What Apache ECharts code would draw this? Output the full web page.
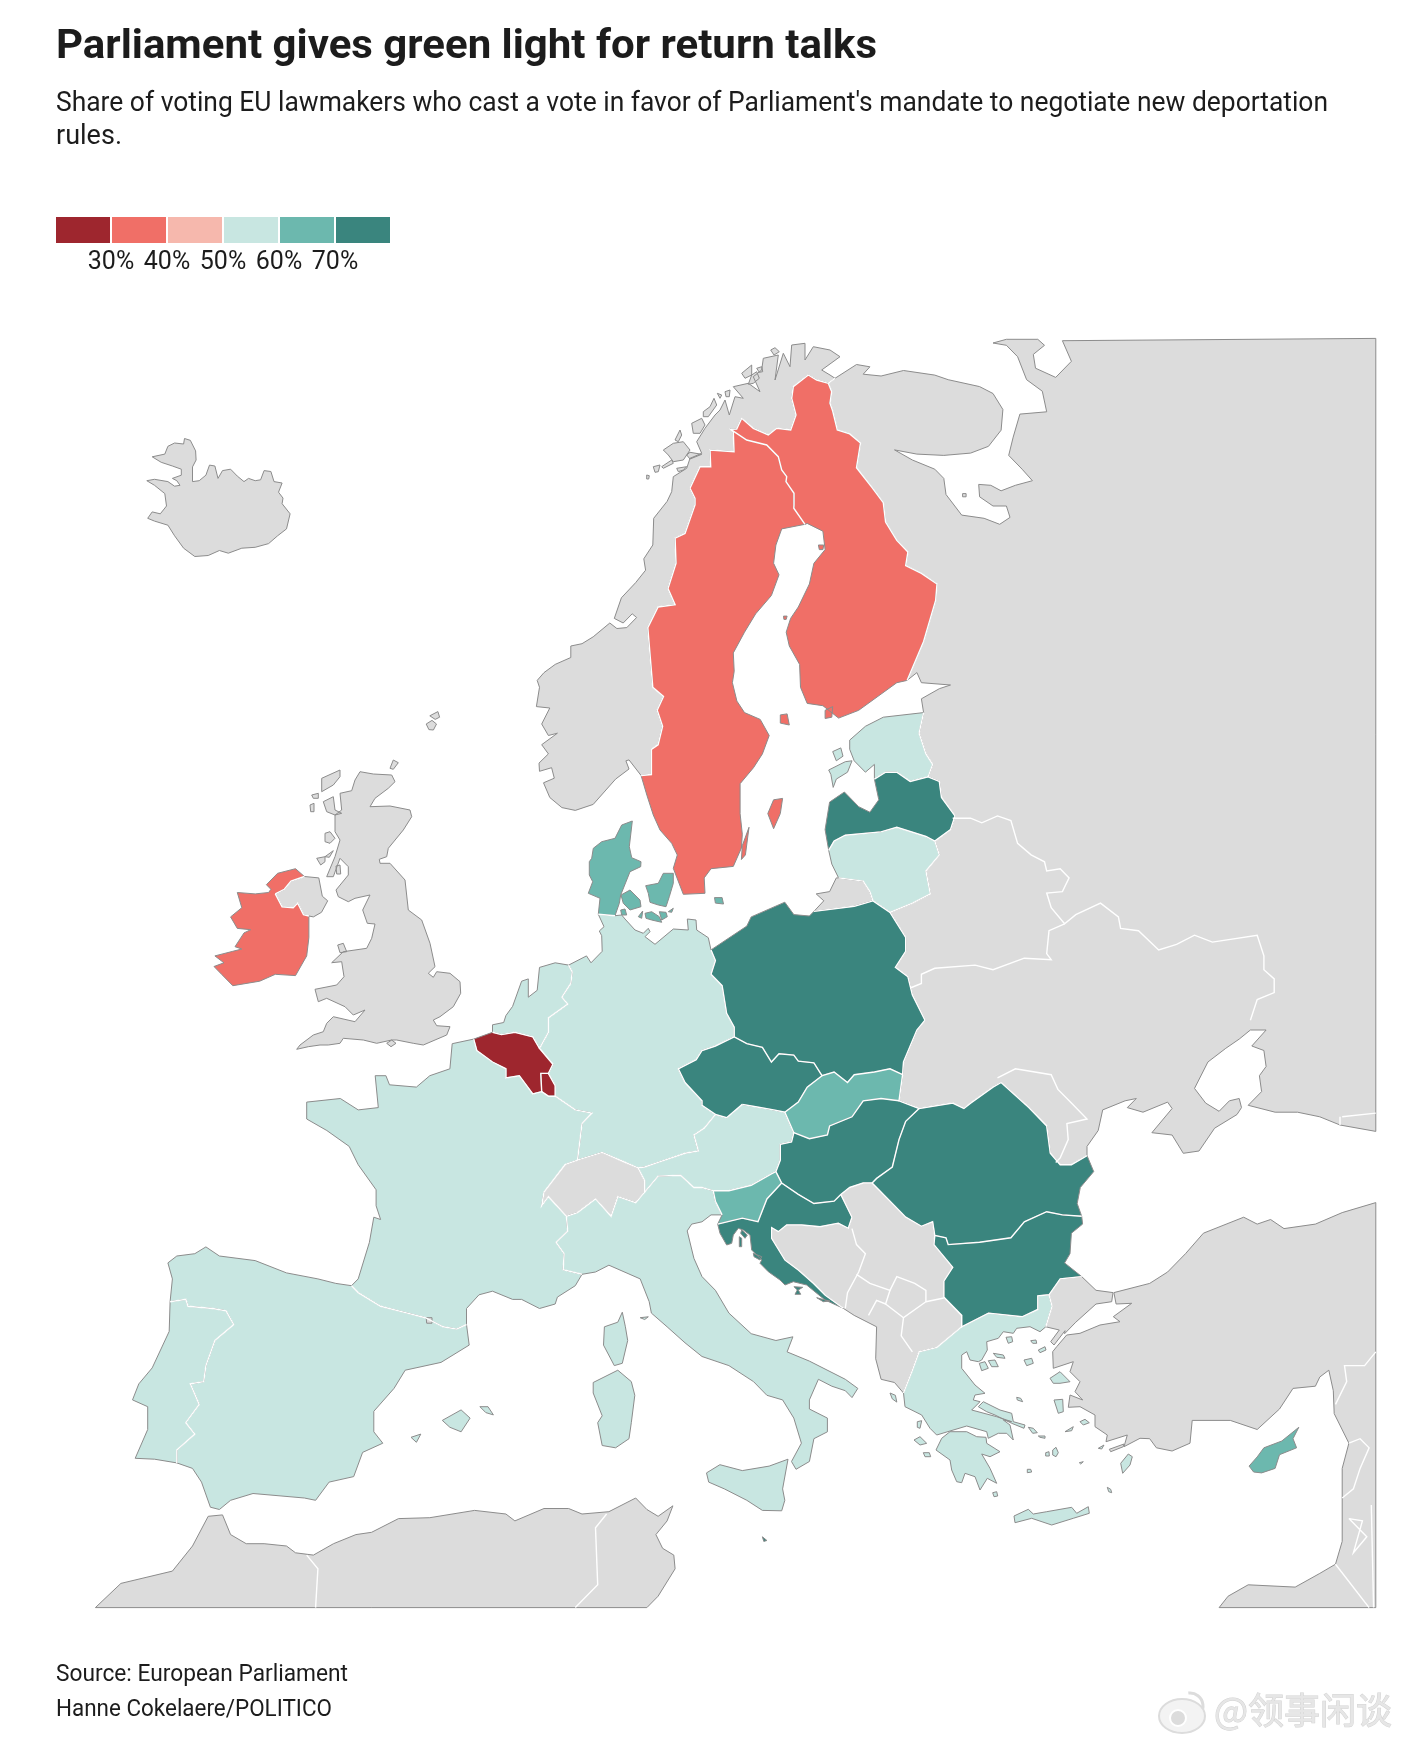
<!DOCTYPE html>
<html>
<head>
<meta charset="utf-8">
<title>Parliament gives green light for return talks</title>
<script src="https://cdn.jsdelivr.net/npm/echarts@6/dist/echarts.min.js"></script>
<style>
html,body{margin:0;padding:0;background:#fff;}
#main{width:1404px;height:1746px;}
</style>
</head>
<body>
<div id="main"></div>
<script>
// share of yes votes per country (read from the colour bins, so estimates)
var euCountries = ['Belgium','Luxembourg','Ireland','Sweden','Finland','Germany','France','Spain','Portugal','Italy','Greece','Austria','Netherlands','Estonia','Lithuania','Denmark','Slovakia','Slovenia','Cyprus','Latvia','Poland','Czechia','Hungary','Romania','Bulgaria','Croatia','Malta'];
var euShares = [27,28,37,36,38,55,53,56,54,58,57,55,53,57,58,64,65,66,67,76,78,75,80,79,82,76,74];

var legendBreaks = [20,30,40,50,60,70,80];
var legendColors = ['#9e262e','#f06f67','#f6b8ad','#c8e6e1','#6cb8ae','#3a857e'];

var titleText = 'Parliament gives green light for return talks';
var subtitleLines = ["Share of voting EU lawmakers who cast a vote in favor of Parliament's mandate to negotiate new deportation", 'rules.'];
var sourceLines = ['Source: European Parliament', 'Hanne Cokelaere/POLITICO'];
var watermarkText = '@领事闲谈';

var tiles = {
  a:[0,320,2.2336,2.178], b:[702,320,2.2336,2.178], c:[0,1030,2.2336,2.19], d:[702,1030,2.2336,2.19],
  e:[640,335,3,3], f:[580,815,3,3], g:[710,1175,3,3], h:[900,1300,3,3], i:[290,760,3,3]
};

var shapes = {
  Iceland: ['a 340,298 368,292 375,275 390,268 410,270 412,258 425,262 437,285 438,305 430,320 430,352 445,350 460,338 468,316 480,318 487,345 497,328 515,325 530,340 545,352 555,345 570,350 582,348 590,328 605,330 612,352 630,355 622,375 632,388 630,400 648,422 640,455 620,470 600,487 570,495 540,497 510,508 490,502 465,513 435,515 410,497 390,470 375,447 345,438 330,432 340,418 358,422 372,405 368,378 345,360 328,350 345,347 375,352 390,362 402,360 395,350 385,345 405,338 405,325 385,318 360,310'],
  Faroe: ['a 952,880 965,872 975,880 968,893 958,892','a 960,862 978,853 982,865 972,870'],
  Norway: ['a 1285,1068 1255,1062 1228,1040 1214,1008 1238,998 1232,975 1205,983 1204,965 1225,945 1210,925 1245,900 1225,905 1210,880 1228,845 1198,842 1205,800 1200,785 1215,768 1240,750 1275,735 1275,710 1300,705 1325,690 1362,660 1378,672 1400,670 1422,648 1412,640 1392,660 1372,650 1388,605 1420,572 1442,545 1438,520 1458,490 1460,432 1490,395 e 95,470 100,425 140,400 150,370 185,355 170,320 195,280 225,240 240,225 255,195 268,240 285,185 310,190 280,155 325,145 360,170 340,125 365,105 370,70 415,60 405,135 430,55 450,95 455,30 495,25 495,75 520,35 570,45 600,65 545,105 570,120 585,130 565,145 530,135 505,120 460,155 455,190 468,240 452,285 410,280 385,300 340,280 305,250 290,282 272,283 280,290 282,350 210,345 212,395 180,395 150,460 165,490 165,510 a 1530,465 1508,475 1510,530 1492,585 1508,620 1470,625 1447,670 1452,730 1458,800 1482,820 1468,850 1480,885 1470,925 1455,935 1455,990 1432,992 1405,958 1398,960 1405,978 1375,1000 1325,1055',
    'e 70,345 100,325 130,320 150,345 130,375 100,380 85,360','e 105,315 120,285 125,300 115,320','e 40,395 60,390 55,410 45,412','e 65,395 95,375 100,385 70,400','e 20,420 28,422 26,432 20,432','e 110,400 140,395 130,405 115,410','e 155,265 185,250 195,270 180,295 160,295','e 190,230 210,215 222,190 230,210 205,245 190,245','e 232,175 245,180 240,190','e 255,170 270,165 268,185 258,185','e 305,115 335,90 335,120 315,130','e 335,120 350,110 358,130 340,145 325,148','e 350,100 365,95 368,110 358,112','e 392,45 405,38 418,50 402,60','e 140,360 150,352 185,358 150,372'],
  Sweden: ['e 272,283 320,315 380,330 415,365 425,405 440,425 438,440 462,475 462,510 b 205,410 230,445 178,455 165,490 160,530 172,555 155,600 120,640 95,680 70,725 72,765 68,790 78,830 95,855 130,870 150,905 135,945 115,975 85,1010 85,1075 90,1120 88,1150 70,1190 20,1195 5,1215 f 375,235 310,238 280,160 292,120 275,85 240,45 220,0 a 1445,1035 1432,992 1455,990 1455,935 1470,925 1480,885 1468,850 1482,820 1458,800 1452,730 1447,670 1470,625 1508,620 1492,585 1510,530 1508,475 1530,465 e 165,510 165,490 150,460 180,395 212,395 210,345 282,350 280,290',
    'b 147,1075 160,1045 180,1042 175,1075 160,1108','b 105,1105 97,1165 88,1175 90,1145'],
  Finland: ['e 272,283 290,282 305,250 340,280 385,300 410,280 452,285 468,240 455,190 460,155 505,120 530,135 565,145 575,170 570,205 578,228 592,285 b 330,248 354,268 345,322 380,365 405,398 410,440 435,480 460,505 455,535 490,552 525,575 522,610 495,700 458,785 435,790 350,850 305,867 270,840 235,835 220,800 218,750 195,710 188,680 198,650 215,625 240,575 250,530 275,500 270,460 235,443 230,445 205,410 e 462,510 462,475 438,440 440,425 425,405 415,365 380,330 320,315',
    'b 175,860 190,858 195,882 175,878','b 260,490 272,490 270,500 262,500','b 182,645 190,645 188,652 183,652','b 275,850 292,842 290,865 275,868'],
  Russia: ['e 565,145 585,130 b 345,97 375,102 360,118 400,122 450,110 520,120 550,130 620,145 650,160 672,195 668,240 640,275 600,290 540,295 480,292 430,283 470,305 520,325 540,345 545,380 580,425 630,432 665,445 688,430 680,405 650,405 620,385 618,358 645,360 668,372 700,360 738,350 715,325 685,295 695,255 710,205 770,200 760,155 725,130 705,80 680,55 650,50 680,42 750,42 765,55 740,75 745,105 790,125 825,90 805,45 1505,40 d 1505,222 1425,208 1380,190 1330,180 1280,180 1220,165 1250,135 1245,100 1260,80 1255,45 1228,35 1260,0 1225,0 1200,20 1170,40 1130,70 1100,128 1125,160 1155,178 1178,155 1200,150 1205,170 1195,185 1145,215 1110,265 1075,270 1050,230 1005,225 1050,172 1040,158 985,180 950,170 970,150 945,155 895,175 885,220 860,255 860,275 825,295 800,295 778,270 770,210 730,170 668,115 650,125 600,160 585,172 560,160 485,172 440,155 448,98 450,70 480,0 b 498,1525 470,1470 460,1430 432,1410 455,1375 455,1345 420,1290 470,1270 510,1250 500,1200 530,1165 520,1135 555,1110 565,1080 535,1040 530,1005 505,995 515,968 500,945 485,900 495,855 490,825 530,803 555,795 490,790 480,768 458,785 495,700 522,610 525,575 490,552 455,535 460,505 435,480 410,440 405,398 380,365 345,322 354,268 330,248 e 592,285 578,228 570,205 575,170',
    'b 582,378 590,378 590,385 582,385'],
  Kaliningrad: ['b 250,1288 272,1265 255,1250 285,1245 300,1215 305,1215 360,1222 375,1245 382,1265 340,1277'],
  Estonia: ['b 495,855 485,900 500,945 515,968 505,995 465,1005 435,985 410,985 385,1000 385,968 365,985 340,960 330,935 330,915 365,885 405,865','b 283,980 320,962 335,960 325,985 300,1000 293,1018 288,990','b 292,940 310,932 315,950 300,960'],
  Latvia: ['b 385,1000 410,985 435,985 465,1005 505,995 530,1005 535,1040 565,1080 555,1110 520,1135 500,1125 435,1105 400,1115 320,1122 295,1135 283,1155 275,1110 285,1050 318,1028 350,1060 375,1072 395,1045'],
  Lithuania: ['b 283,1155 295,1135 320,1122 400,1115 435,1105 500,1125 520,1135 530,1165 500,1200 510,1250 470,1270 420,1290 382,1265 375,1245 360,1222 305,1215 290,1185'],
  Poland: ['b 20,1372 100,1320 110,1300 185,1268 205,1295 240,1298 250,1288 340,1277 382,1265 420,1290 455,1345 455,1375 432,1410 460,1430 470,1470 498,1525 d 480,0 450,70 448,98 420,85 385,92 340,98 325,115 295,92 268,100 250,72 215,68 205,55 172,52 155,70 135,38 100,30 72,15 b 72,1540 55,1510 45,1450 20,1425 30,1395'],
  Denmark: ['f 157,18 125,30 105,70 65,80 40,100 35,130 28,140 28,180 38,200 25,235 60,250 55,298 105,302 118,265 122,240 140,195 150,170 182,155 183,140 155,128 148,95',
    'f 123,240 150,225 180,255 183,275 150,285 130,265','f 197,212 235,205 250,175 280,175 280,205 268,245 258,275 235,270 210,262 205,235','f 195,295 215,290 238,305 245,322 215,315 198,310','f 238,290 258,292 262,305 245,315','f 175,305 188,288 185,310','f 265,290 280,280 275,292','f 122,285 135,282 140,300 125,300','b 28,1258 45,1258 48,1272 30,1270'],
  Germany: ['f 55,298 105,302 125,300 135,312 165,345 190,355 205,340 210,350 195,365 225,388 280,342 325,345 322,312 348,315 350,345 385,368 b 20,1372 30,1395 20,1425 45,1450 55,1510 72,1540 d 72,15 30,35 0,45 c 1555,65 1515,85 1530,115 1568,155 d 0,165 30,185 5,215 c 1550,230 1560,265 1530,270 1470,290 1440,300 1425,302 1392,288 1345,268 1290,285 1300,205 1322,182 1285,175 1240,145 1240,122 1225,95 1235,75 1205,40 1225,5 a 1225,1520 1268,1490 1255,1475 1275,1445 1278,1420 1270,1405 1310,1385 1320,1400 1345,1375 f 65,362 58,348 72,335'],
  Netherlands: ['c 1100,5 1120,10 1150,5 1190,15 1205,40 1225,5 a 1225,1520 1268,1490 1255,1475 1275,1445 1278,1420 1270,1405 1240,1400 1205,1410 1200,1460 1180,1475 1180,1435 1165,1440 1145,1495 1130,1515 1125,1530 1100,1535'],
  Belgium: ['c 1205,40 1235,75 1225,95 1208,95 1210,135 1190,140 1160,100 1130,105 1130,85 1100,70 1065,45 1058,20 1100,5 1120,10 1150,5 1190,15'],
  Luxembourg: ['c 1208,95 1225,95 1240,122 1240,145 1225,145 1210,135'],
  France: ['c 1010,30 1005,85 960,100 930,125 870,120 862,100 838,100 845,170 800,175 760,150 685,158 685,195 730,220 780,255 800,295 840,350 840,385 850,415 835,410 825,465 800,545 785,560 800,575 850,605 910,620 950,630 990,650 1020,655 1042,645 1042,610 1070,580 1100,572 1145,590 1165,590 1205,610 1240,600 1245,585 1285,560 1300,535 1258,525 1260,490 1242,465 1268,440 1265,408 1225,365 1210,385 1215,355 1262,295 1290,285 1300,205 1322,182 1285,175 1240,145 1225,145 1210,135 1190,140 1160,100 1130,105 1130,85 1100,70 1065,45 1058,20',
    'c 1390,618 1397,650 1402,680 1390,730 1372,735 1348,690 1350,650 1380,640'],
  Spain: ['c 785,560 750,555 710,545 640,532 570,505 490,495 460,475 435,490 395,495 375,510 385,545 380,595 415,590 420,605 475,610 505,615 522,645 480,680 460,735 455,770 425,775 445,820 415,860 435,885 395,920 395,948 430,960 450,990 470,1045 490,1050 515,1030 565,1015 680,1025 705,1030 735,990 790,978 810,925 855,905 835,880 835,835 880,785 905,745 985,728 1048,690 1042,645 1020,655 990,650 950,630 910,620 850,605 800,575',
    'c 988,855 1030,832 1050,850 1030,880 1005,870','c 1072,825 1090,825 1102,843 1085,838','c 918,892 940,885 930,903'],
  Portugal: ['c 380,595 378,660 340,740 310,775 296,810 330,825 330,875 302,938 345,940 395,948 395,920 435,885 415,860 445,820 425,775 455,770 460,735 480,680 522,645 505,615 475,610 420,605 415,590'],
  Andorra: ['c 952,630 965,630 965,642 953,642'],
  Switzerland: ['c 1262,295 1290,285 1345,268 1392,288 1425,302 1440,330 1440,355 1420,378 1380,365 1365,408 1330,370 1290,400 1265,408 1225,365 1210,385 1215,355'],
  Italy: ['c 1300,535 1258,525 1260,490 1242,465 1268,440 1265,408 1290,400 1330,370 1365,408 1380,365 1420,378 1440,355 1470,320 1520,318 1550,345 d 0,345 25,352 30,375 45,405 20,405 0,420 c 1545,425 1535,440 1550,500 d 0,540 30,570 60,620 110,665 165,680 203,672 190,705 240,725 320,765 348,785 335,805 320,790 290,780 260,765 240,810 240,830 280,850 280,880 250,895 240,945 210,962 200,945 222,905 205,850 180,810 145,800 115,770 60,735 0,715 c 1530,685 1490,650 1455,620 1450,595 1430,545 1360,515 1330,530',
    'c 1325,772 1380,745 1410,770 1418,800 1410,860 1405,895 1375,915 1345,910 1335,860 1345,845 1325,795',
    'd 10,970 40,952 90,965 150,955 192,940 180,1005 185,1030 178,1053 135,1052 100,1030 50,1005 15,990',
    'c 1430,630 1448,628 1440,634'],
  Malta: ['d 135,1110 145,1118 138,1120'],
  Austria: ['d 90,163 55,192 30,185 5,215 c 1550,230 1560,265 1530,270 1470,290 1440,300 1425,302 1440,330 1440,355 1470,320 1520,318 1550,345 d 0,345 25,352 60,352 110,340 155,315 165,310 175,285 175,250 200,245 205,225 185,180 160,175 120,168'],
  Czechia: ['d 72,15 100,30 135,38 155,70 172,52 205,55 215,68 250,72 268,100 235,125 215,158 185,180 160,175 120,168 90,163 55,192 30,185 0,165 c 1568,155 1530,115 1515,85 1555,65 d 0,45 30,35'],
  Slovakia: ['d 268,100 295,92 325,115 340,98 385,92 420,85 448,98 440,155 400,150 360,155 335,190 285,210 280,230 240,238 205,225 185,180 215,158 235,125'],
  Hungary: ['d 205,225 240,238 280,230 285,210 335,190 360,155 400,150 440,155 485,172 455,200 440,240 425,300 390,325 380,335 360,335 330,345 310,360 295,375 250,380 215,360 178,335 165,310 175,285 175,250 200,245'],
  Romania: ['d 485,172 560,160 585,172 600,160 650,125 668,115 730,170 770,210 778,270 800,295 825,295 860,275 875,310 845,345 838,380 848,408 805,405 770,398 720,420 690,455 620,465 550,470 545,455 520,450 515,420 490,430 455,410 430,385 395,350 380,335 390,325 425,300 440,240 455,200'],
  Bulgaria: ['d 848,408 850,425 825,445 822,490 810,510 848,540 800,545 775,580 750,582 750,612 715,628 640,620 580,650 580,625 540,585 540,550 560,520 518,470 520,450 545,455 550,470 620,465 690,455 720,420 770,398 805,405'],
  Slovenia: ['d 25,352 60,352 110,340 155,315 165,310 178,335 145,370 125,420 90,412 35,425 45,405 30,375'],
  Croatia: ['d 178,335 215,360 250,380 295,375 310,360 335,410 g 415,160 385,145 330,155 275,150 230,150 205,170 185,158 185,190 225,255 265,285 310,325 345,360 400,400 345,375 290,330 250,320 225,330 210,315 175,290 150,265 155,255 125,225 120,180 100,165 85,160 70,180 65,205 50,210 30,175 d 35,425 90,412 125,420 145,370',
    'g 95,165 112,180 105,190 92,175','g 88,185 95,190 95,215 88,215','g 130,235 155,245 150,255 132,245','g 252,335 278,337 265,345 272,358 255,358 262,345','g 320,368 345,375 360,378 340,380'],
  'Western Balkans': ['g 185,158 205,170 230,150 275,150 330,155 385,145 415,160 d 335,410 310,360 330,345 360,335 380,335 395,350 430,385 455,410 490,430 515,420 520,450 518,470 560,520 540,550 540,585 580,625 580,650 525,695 485,705 470,745 450,795 430,772 400,765 388,720 390,650 340,625 g 400,400 345,360 310,325 265,285 225,255 185,190'],
  Greece: ['d 450,795 470,745 485,705 525,695 580,650 640,620 715,628 750,612 750,582 775,580 782,605 768,650 h 420,95 390,80 350,85 340,100 310,95 295,115 260,125 262,150 245,180 235,185 210,180 200,155 185,165 185,205 225,255 255,280 225,285 220,300 240,305 215,330 290,350 335,365 310,360 330,375 340,420 320,400 295,400 265,415 260,395 200,378 150,393 110,405 90,385 65,345 15,320',
    'h 108,450 125,415 150,395 200,395 230,410 258,412 260,430 300,455 270,470 245,462 270,505 290,550 262,535 240,570 225,530 195,520 185,548 170,545 155,510 150,480',
    'h 235,320 250,305 300,330 335,340 340,365 375,375 372,385 335,370 315,360 285,345 260,335',
    'h 342,648 385,628 400,642 440,635 515,622 530,640 565,620 568,640 520,655 455,675 395,655 345,668',
    'h 318,112 335,110 338,125 325,130','h 392,122 408,120 410,130 398,130','h 415,150 435,140 438,150 420,158','h 372,180 395,175 400,190 380,197','h 450,235 480,215 510,245 480,250 460,250','h 462,300 488,298 490,335 475,340','h 540,365 555,358 568,368 550,375','h 495,395 520,380 515,392','h 350,292 362,295 368,305 352,300','h 385,382 400,385 412,398 398,400','h 415,408 435,408 435,415 420,412','h 458,450 468,442 475,458 468,470 458,465','h 437,458 447,455 448,468 437,468','h 538,488 550,485 542,492','h 382,508 392,508 395,516 382,518','h 662,490 685,462 697,470 690,495 668,520','h 622,562 632,568 635,578 626,575','h 278,578 290,575 293,588 282,590','h 42,420 60,410 80,430 60,435','h 70,458 88,458 92,470 75,470','h 52,365 65,362 60,385 52,382','h 238,190 255,185 265,205 245,212','h 265,182 285,180 295,200 275,200','h 280,160 310,165 315,175 290,172','h 595,445 612,435 605,447','d 420,795 432,800 435,815 425,808'],
  Turkey: ['d 920,575 1000,555 1040,530 1080,490 1120,445 1210,410 1240,425 1270,415 1300,435 1370,425 1430,400 1505,378 1505,1265 1155,1265 1175,1240 1220,1215 1325,1220 1380,1190 1415,1170 1430,1120 1430,960 1445,905 1412,840 1410,790 1400,745 1380,760 1370,780 1320,785 1290,830 1240,875 1180,855 1095,855 1090,905 1050,922 1015,915 1000,895 h 720,415 672,440 682,405 618,425 622,405 585,380 585,345 540,320 505,322 510,285 548,300 525,275 540,245 510,215 520,185 460,205 458,155 470,140 500,105 540,100 600,75 660,65 640,50 695,10 d 925,600',
    'd 775,580 800,545 848,540 880,570 918,575 915,595 880,600 835,640 810,665 h 495,92 462,135 452,125 478,90 d 768,650 782,605','h 628,448 672,432 670,440 632,455'],
  Cyprus: ['d 1222,955 1240,935 1255,915 1295,900 1333,870 1320,895 1328,915 1290,930 1280,960 1250,970 1232,968'],
  'North Africa': ['c 213,1265 270,1212 385,1185 430,1130 465,1065 497,1062 515,1105 550,1125 590,1125 640,1130 660,1145 700,1150 745,1125 795,1105 830,1100 890,1070 960,1068 1060,1052 1130,1060 1150,1075 1215,1048 1270,1048 1300,1060 1360,1055 1420,1025 1445,1050 1470,1065 1503,1042 1490,1075 1465,1105 1480,1135 1505,1150 1508,1180 1470,1240 1445,1265'],
  'Northern Ireland': ['a 615,1250 635,1240 650,1222 680,1212 712,1215 720,1255 732,1265 718,1290 700,1300 690,1298 678,1295 665,1270 655,1280 630,1278'],
  Ireland: ['a 530,1247 570,1250 600,1247 605,1240 595,1230 620,1205 660,1195 680,1212 650,1222 635,1240 615,1250 630,1278 655,1280 665,1270 678,1295 690,1298 690,1345 685,1385 660,1428 615,1425 580,1440 520,1450 495,1425 478,1408 500,1400 480,1385 520,1375 540,1370 525,1365 545,1335 560,1328 530,1325 515,1300 540,1280'],
  Britain: ['i 210,35 250,42 305,45 315,65 295,85 255,115 240,140 300,138 360,150 365,170 340,210 295,265 290,290 268,298 270,310 300,310 345,360 355,450 395,480 420,550 435,620 415,640 430,652 440,635 480,640 510,665 512,700 490,740 450,770 430,780 440,797 480,800 470,825 400,855 370,850 320,840 305,840 260,850 220,840 160,835 150,850 115,855 90,855 55,860 20,868 30,855 70,825 100,815 110,790 130,770 195,785 225,750 190,765 165,740 110,715 85,725 75,688 140,675 162,650 155,605 125,608 160,575 230,565 245,535 255,492 232,490 218,450 240,405 195,415 175,425 145,410 138,390 175,345 175,320 150,295 130,350 110,350 135,290 150,240 135,215 135,165 155,150 150,100 185,92 195,60',
    'i 95,55 150,30 150,50 130,75 95,95','i 100,125 130,110 135,150 155,160 135,165 110,155','i 65,105 85,100 85,115 70,115','i 60,135 72,130 72,155 62,155','i 105,220 120,215 135,235 120,250 105,245','i 80,295 105,290 105,305 92,315','i 105,290 130,272 118,292','i 138,318 150,315 152,342 140,342','i 143,555 160,550 170,575 150,578','i 290,850 305,840 318,850 303,860','i 300,25 310,0 325,8 310,28']
};

// land borders inside the grey areas, the shared edges of the shapes are found below
var innerBorders = [
  'b 560,1085 600,1085 625,1095 660,1080 690,1090 705,1140 735,1165 765,1180 770,1200 800,1195 820,1215 805,1245 770,1248 780,1280 810,1315 835,1295 890,1270 930,1300 935,1325 975,1330 1020,1372 1060,1360 1100,1340 1140,1355 1240,1340 1255,1385 1255,1415 1278,1435 1278,1465 1240,1480 1225,1525',
  'b 810,1315 775,1330 770,1380 780,1393 720,1390 650,1415 610,1405 520,1412 490,1425 490,1445 465,1455',
  'd 660,105 700,85 780,98 795,130 825,160 860,195 815,205 818,240 800,280 790,290',
  'd 335,435 345,470 365,490 350,530 325,575 320,610','d 345,535 375,555 420,570 435,540 475,555 500,570 500,595 450,630 445,670 470,705','d 500,595 540,587','d 372,625 390,592 410,600 420,570','d 410,600 450,630',
  'd 1505,705 1480,735 1435,735 1440,770 1415,820','d 1445,905 1470,895 1490,915 1470,960 1455,1005 1430,1025','d 1445,1070 1475,1075 1455,1145 1485,1110 1445,1070','d 1415,1170 1490,1265','d 1495,1040 1500,1265','d 1425,190 1425,208','d 1505,182 1430,190',
  'c 685,1150 710,1180 705,1265','c 1355,1060 1330,1090 1335,1215 1285,1265'
];

function parseRing(str){
  var pts = [], t = null;
  str.split(' ').forEach(function(tok){
    if(tiles[tok]){ t = tiles[tok]; return; }
    var p = tok.split(',');
    pts.push([+(t[0] + p[0]/t[2]).toFixed(1), -(+(t[1] + p[1]/t[3]).toFixed(1))]);
  });
  return pts;
}

var features = [], edges = {}, borderLines = [];

function edgeKey(p,q){
  var a = p.join(','), b = q.join(',');
  return a < b ? a + '|' + b : b + '|' + a;
}

var allRings = [];
for(var name in shapes){
  var rings = shapes[name].map(parseRing);
  rings.forEach(function(r){
    allRings.push(r);
    r.forEach(function(p,i){
      var k = edgeKey(p, r[(i+1) % r.length]);
      edges[k] = (edges[k] || 0) + 1;
    });
  });
  features.push({
    type:'Feature',
    properties:{name:name},
    geometry:{type:'MultiPolygon', coordinates:rings.map(function(r){ return [r.concat([r[0]])]; })}
  });
}

// an edge used by two shapes is a land border, it gets the white line
var drawn = {};
allRings.forEach(function(r){
  var run = null;
  r.forEach(function(p,i){
    var q = r[(i+1) % r.length], k = edgeKey(p,q);
    if(edges[k] > 1 && !drawn[k]){
      drawn[k] = true;
      if(run){ run.push(q); }
      else { run = [p,q]; borderLines.push({coords:run}); }
    } else {
      run = null;
    }
  });
});
innerBorders.forEach(function(s){ borderLines.push({coords:parseRing(s)}); });

echarts.registerMap('europe', {type:'FeatureCollection', features:features});

var mapBox = {
  boundingCoords:[[0,0],[1404,-1746]],
  aspectScale:1,
  left:0, top:0, width:1404, height:1746
};

// no DIN here, so squeeze Roboto to the width the text has in the picture
var measure = document.createElement('canvas').getContext('2d');
function textLine(text, font, x, baseline, size, targetWidth, fill){
  measure.font = font;
  return {
    type:'text', x:x, y:baseline - size*0.85, silent:true,
    scaleX:targetWidth / measure.measureText(text).width,
    style:{text:text, font:font, fill:fill || '#1c1c1c', align:'left', verticalAlign:'top'}
  };
}

var chart = echarts.init(document.getElementById('main'));

var legendBands = legendColors.map(function(c,i){ return [legendBreaks[i], legendBreaks[i+1]]; });

var option = {
  animation:false,
  backgroundColor:'#fff',
  graphic:[
    textLine(titleText, 'bold 41px Roboto', 56, 62, 41, 821),
    textLine(subtitleLines[0], '27px Roboto', 56, 114, 27, 1272),
    textLine(subtitleLines[1], '27px Roboto', 56, 147, 27, 66),
    textLine(sourceLines[0], '24px Roboto', 56, 1683, 24, 292),
    textLine(sourceLines[1], '24px Roboto', 56, 1718, 24, 276),
    {type:'text', x:1214, y:1692, silent:true, style:{text:watermarkText, font:'36px "Noto Sans CJK SC"', fill:'#e6e6e6', stroke:'#d2d2d2', lineWidth:1}},
    {type:'ellipse', silent:true, shape:{cx:1182, cy:1716, rx:23, ry:17}, style:{fill:'#f3f3f3', stroke:'#dcdcdc', lineWidth:2}},
    {type:'circle', silent:true, shape:{cx:1178, cy:1718, r:8}, style:{fill:'#dcdcdc', stroke:'#fff', lineWidth:2}},
    {type:'arc', silent:true, shape:{cx:1190, cy:1706, r:13, startAngle:-1.7, endAngle:0.2}, style:{fill:null, stroke:'#dcdcdc', lineWidth:3}}
  ],
  grid:{left:55, top:217, width:336, height:26},
  xAxis:{
    type:'value', min:legendBreaks[0], max:legendBreaks[legendBreaks.length-1], interval:10,
    splitLine:{show:false}, axisLine:{show:false}, axisTick:{show:false},
    axisLabel:{showMinLabel:false, showMaxLabel:false, margin:7, formatter:'{value}%', fontFamily:'Roboto', fontSize:25, color:'#1c1c1c'}
  },
  yAxis:{type:'category', data:[''], show:false},
  visualMap:{
    show:false, type:'piecewise', seriesIndex:0,
    pieces:legendBands.map(function(b,i){ return {gte:i ? b[0] : 0, lt:i==legendBands.length-1 ? 101 : b[1], color:legendColors[i]}; })
  },
  geo:Object.assign({map:'europe', show:false, silent:true}, mapBox),
  series:[
    Object.assign({
      type:'map', map:'europe', silent:true,
      itemStyle:{areaColor:'#dcdcdc', borderColor:'#8c8c8c', borderWidth:1},
      label:{show:false},
      data:euCountries.map(function(n,i){ return {name:n, value:euShares[i]}; })
    }, mapBox),
    {
      type:'lines', coordinateSystem:'geo', geoIndex:0, polyline:true, silent:true,
      lineStyle:{color:'#fff', width:1.4, opacity:1},
      data:borderLines
    },
    {
      type:'custom', coordinateSystem:'cartesian2d', silent:true,
      data:legendBands,
      renderItem:function(params,api){
        var p0 = api.coord([api.value(0),0]), p1 = api.coord([api.value(1),0]), h = api.size([0,1])[1];
        return {type:'rect', shape:{x:p0[0]+1, y:p0[1]-h/2, width:p1[0]-p0[0]-2, height:h}, style:{fill:legendColors[params.dataIndex]}};
      },
      encode:{x:[0,1]}
    }
  ]
};
chart.setOption(option);
</script>
</body>
</html>
